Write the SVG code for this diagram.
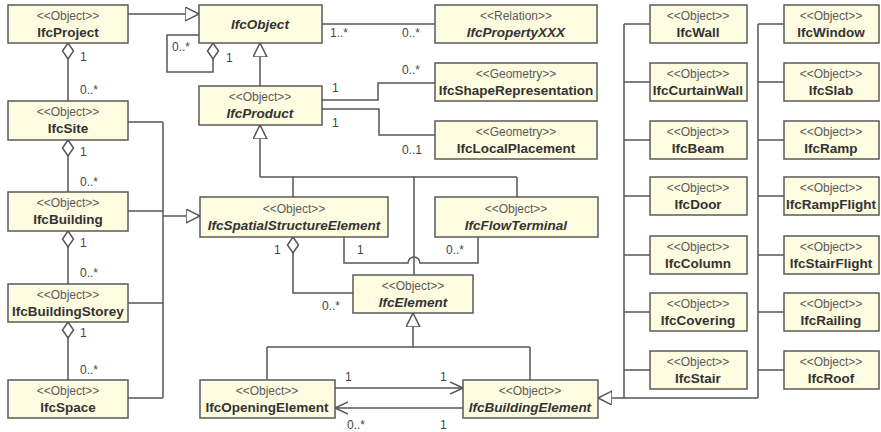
<svg xmlns="http://www.w3.org/2000/svg" width="881" height="432" viewBox="0 0 881 432">
<style>
.box rect{fill:#fdfbe0;stroke:#5a5a5a;stroke-width:1.5}
.st{font-family:"Liberation Sans",Arial,sans-serif;font-size:12px;fill:#5a5a5a;text-anchor:middle}
.nm{font-family:"Liberation Sans",Arial,sans-serif;font-size:13.5px;font-weight:bold;fill:#333;text-anchor:middle}
.it{font-style:italic}
.cn path{fill:none;stroke:#555;stroke-width:1.5}
.lb{font-family:"Liberation Sans",Arial,sans-serif;font-size:12px;fill:#444}
</style>
<defs>
<marker id="tri" markerUnits="userSpaceOnUse" markerWidth="18" markerHeight="18" refX="14" refY="7" orient="auto"><path d="M0,0 L14,7 L0,14 z" fill="#fff" stroke="#555" stroke-width="1.5"/></marker>
<marker id="dia" markerUnits="userSpaceOnUse" markerWidth="20" markerHeight="16" refX="1" refY="6.5" orient="auto"><path d="M1,6.5 L9,1 L17,6.5 L9,12 z" fill="#fff" stroke="#555" stroke-width="1.5"/></marker>
<marker id="opn" markerUnits="userSpaceOnUse" markerWidth="16" markerHeight="16" refX="13" refY="7" orient="auto"><path d="M0,1 L13,7 L0,13" fill="none" stroke="#555" stroke-width="1.5"/></marker>
</defs>

<g class="cn" id="connectors">
<path d="M128,14 H199" marker-end="url(#tri)"/>
<path d="M213,43 V72 H167 V35 H199" marker-start="url(#dia)"/>
<path d="M260,86 V43" marker-end="url(#tri)"/>
<path d="M322,24 H435"/>
<path d="M322,100 H378 V83 H435"/>
<path d="M322,109 H379 V135 H435"/>
<path d="M68,43 V101" marker-start="url(#dia)"/>
<path d="M68,140 V192" marker-start="url(#dia)"/>
<path d="M68,231 V284" marker-start="url(#dia)"/>
<path d="M68,322 V380" marker-start="url(#dia)"/>
<path d="M128,122 H163 M128,211 H163 M128,303 H163 M128,398 H163 M163,122 V398"/>
<path d="M163,216 H200" marker-end="url(#tri)"/>
<path d="M260,177 V125" marker-end="url(#tri)"/>
<path d="M260,177 H517 M293,177 V197 M517,177 V197 M414,177 V275"/>
<path d="M344,237 V263 H408 A6,6 0 0 1 420,263 H478 V237"/>
<path d="M293,237 V293 H353" marker-start="url(#dia)"/>
<path d="M413,347 V313" marker-end="url(#tri)"/>
<path d="M267,347 H530 M267,347 V380 M530,347 V380"/>
<path d="M335,388 H463" marker-end="url(#opn)"/>
<path d="M463,408 H335" marker-end="url(#opn)"/>
<path d="M624,24 V398 M758,24 V398"/>
<path d="M758,398 H598" marker-end="url(#tri)"/>
<path d="M624,24 H650 M624,82 H650 M624,140 H650 M624,196 H650 M624,255 H650 M624,312 H650 M624,370 H650"/>
<path d="M758,24 H784 M758,82 H784 M758,140 H784 M758,196 H784 M758,255 H784 M758,312 H784 M758,370 H784"/>
</g>

<g id="labels">
<text class="lb" x="80" y="61">1</text><text class="lb" x="80" y="94">0..*</text>
<text class="lb" x="80" y="156">1</text><text class="lb" x="80" y="186">0..*</text>
<text class="lb" x="80" y="247">1</text><text class="lb" x="80" y="277">0..*</text>
<text class="lb" x="80" y="337">1</text><text class="lb" x="80" y="374">0..*</text>
<text class="lb" x="172" y="51">0..*</text><text class="lb" x="226" y="62">1</text>
<text class="lb" x="330" y="37">1..*</text><text class="lb" x="402" y="37">0..*</text>
<text class="lb" x="332" y="92">1</text><text class="lb" x="402" y="74">0..*</text>
<text class="lb" x="332" y="127">1</text><text class="lb" x="402" y="154">0..1</text>
<text class="lb" x="357" y="254">1</text><text class="lb" x="446" y="254">0..*</text>
<text class="lb" x="274" y="254">1</text><text class="lb" x="322" y="310">0..*</text>
<text class="lb" x="345" y="381">1</text><text class="lb" x="440" y="381">1</text>
<text class="lb" x="347" y="429">0..*</text><text class="lb" x="440" y="429">1</text>
</g>

<g class="box" id="IfcProject"><rect x="8" y="5" width="120" height="38"/><text class="st" x="68" y="20">&lt;&lt;Object&gt;&gt;</text><text class="nm" x="68" y="37">IfcProject</text></g>
<g class="box" id="IfcObject"><rect x="199" y="5" width="123" height="38"/><text class="nm it" x="260" y="29">IfcObject</text></g>
<g class="box" id="IfcPropertyXXX"><rect x="435" y="5" width="162" height="38"/><text class="st" x="516" y="20">&lt;&lt;Relation&gt;&gt;</text><text class="nm it" x="516" y="37">IfcPropertyXXX</text></g>
<g class="box" id="IfcProduct"><rect x="199" y="86" width="123" height="39"/><text class="st" x="260" y="101">&lt;&lt;Object&gt;&gt;</text><text class="nm it" x="260" y="118">IfcProduct</text></g>
<g class="box" id="IfcShapeRepresentation"><rect x="435" y="63" width="162" height="38"/><text class="st" x="516" y="78">&lt;&lt;Geometry&gt;&gt;</text><text class="nm" x="516" y="95">IfcShapeRepresentation</text></g>
<g class="box" id="IfcLocalPlacement"><rect x="435" y="121" width="162" height="38"/><text class="st" x="516" y="136">&lt;&lt;Geometry&gt;&gt;</text><text class="nm" x="516" y="153">IfcLocalPlacement</text></g>
<g class="box" id="IfcSite"><rect x="8" y="101" width="120" height="39"/><text class="st" x="68" y="116">&lt;&lt;Object&gt;&gt;</text><text class="nm" x="68" y="133">IfcSite</text></g>
<g class="box" id="IfcBuilding"><rect x="8" y="192" width="120" height="39"/><text class="st" x="68" y="207">&lt;&lt;Object&gt;&gt;</text><text class="nm" x="68" y="224">IfcBuilding</text></g>
<g class="box" id="IfcBuildingStorey"><rect x="8" y="284" width="120" height="38"/><text class="st" x="68" y="299">&lt;&lt;Object&gt;&gt;</text><text class="nm" x="68" y="316">IfcBuildingStorey</text></g>
<g class="box" id="IfcSpace"><rect x="8" y="380" width="120" height="38"/><text class="st" x="68" y="395">&lt;&lt;Object&gt;&gt;</text><text class="nm" x="68" y="412">IfcSpace</text></g>
<g class="box" id="IfcSpatialStructureElement"><rect x="200" y="197" width="188" height="40"/><text class="st" x="294" y="213">&lt;&lt;Object&gt;&gt;</text><text class="nm it" x="294" y="230">IfcSpatialStructureElement</text></g>
<g class="box" id="IfcFlowTerminal"><rect x="435" y="197" width="163" height="40"/><text class="st" x="516" y="213">&lt;&lt;Object&gt;&gt;</text><text class="nm it" x="516" y="230">IfcFlowTerminal</text></g>
<g class="box" id="IfcElement"><rect x="353" y="275" width="120" height="38"/><text class="st" x="413" y="290">&lt;&lt;Object&gt;&gt;</text><text class="nm it" x="413" y="307">IfcElement</text></g>
<g class="box" id="IfcOpeningElement"><rect x="200" y="380" width="135" height="38"/><text class="st" x="267" y="395">&lt;&lt;Object&gt;&gt;</text><text class="nm" x="267" y="412">IfcOpeningElement</text></g>
<g class="box" id="IfcBuildingElement"><rect x="463" y="380" width="135" height="38"/><text class="st" x="530" y="395">&lt;&lt;Object&gt;&gt;</text><text class="nm it" x="530" y="412">IfcBuildingElement</text></g>

<g class="box" id="IfcWall"><rect x="650" y="5" width="97" height="38"/><text class="st" x="698" y="20">&lt;&lt;Object&gt;&gt;</text><text class="nm" x="698" y="37">IfcWall</text></g>
<g class="box" id="IfcCurtainWall"><rect x="650" y="63" width="97" height="38"/><text class="st" x="698" y="78">&lt;&lt;Object&gt;&gt;</text><text class="nm" x="698" y="95">IfcCurtainWall</text></g>
<g class="box" id="IfcBeam"><rect x="650" y="121" width="97" height="38"/><text class="st" x="698" y="136">&lt;&lt;Object&gt;&gt;</text><text class="nm" x="698" y="153">IfcBeam</text></g>
<g class="box" id="IfcDoor"><rect x="650" y="177" width="97" height="38"/><text class="st" x="698" y="192">&lt;&lt;Object&gt;&gt;</text><text class="nm" x="698" y="209">IfcDoor</text></g>
<g class="box" id="IfcColumn"><rect x="650" y="236" width="97" height="38"/><text class="st" x="698" y="251">&lt;&lt;Object&gt;&gt;</text><text class="nm" x="698" y="268">IfcColumn</text></g>
<g class="box" id="IfcCovering"><rect x="650" y="293" width="97" height="38"/><text class="st" x="698" y="308">&lt;&lt;Object&gt;&gt;</text><text class="nm" x="698" y="325">IfcCovering</text></g>
<g class="box" id="IfcStair"><rect x="650" y="351" width="97" height="38"/><text class="st" x="698" y="366">&lt;&lt;Object&gt;&gt;</text><text class="nm" x="698" y="383">IfcStair</text></g>

<g class="box" id="IfcWindow"><rect x="784" y="5" width="95" height="38"/><text class="st" x="831" y="20">&lt;&lt;Object&gt;&gt;</text><text class="nm" x="831" y="37">IfcWindow</text></g>
<g class="box" id="IfcSlab"><rect x="784" y="63" width="95" height="38"/><text class="st" x="831" y="78">&lt;&lt;Object&gt;&gt;</text><text class="nm" x="831" y="95">IfcSlab</text></g>
<g class="box" id="IfcRamp"><rect x="784" y="121" width="95" height="38"/><text class="st" x="831" y="136">&lt;&lt;Object&gt;&gt;</text><text class="nm" x="831" y="153">IfcRamp</text></g>
<g class="box" id="IfcRampFlight"><rect x="784" y="177" width="95" height="38"/><text class="st" x="831" y="192">&lt;&lt;Object&gt;&gt;</text><text class="nm" x="831" y="209">IfcRampFlight</text></g>
<g class="box" id="IfcStairFlight"><rect x="784" y="236" width="95" height="38"/><text class="st" x="831" y="251">&lt;&lt;Object&gt;&gt;</text><text class="nm" x="831" y="268">IfcStairFlight</text></g>
<g class="box" id="IfcRailing"><rect x="784" y="293" width="95" height="38"/><text class="st" x="831" y="308">&lt;&lt;Object&gt;&gt;</text><text class="nm" x="831" y="325">IfcRailing</text></g>
<g class="box" id="IfcRoof"><rect x="784" y="351" width="95" height="38"/><text class="st" x="831" y="366">&lt;&lt;Object&gt;&gt;</text><text class="nm" x="831" y="383">IfcRoof</text></g>
</svg>
